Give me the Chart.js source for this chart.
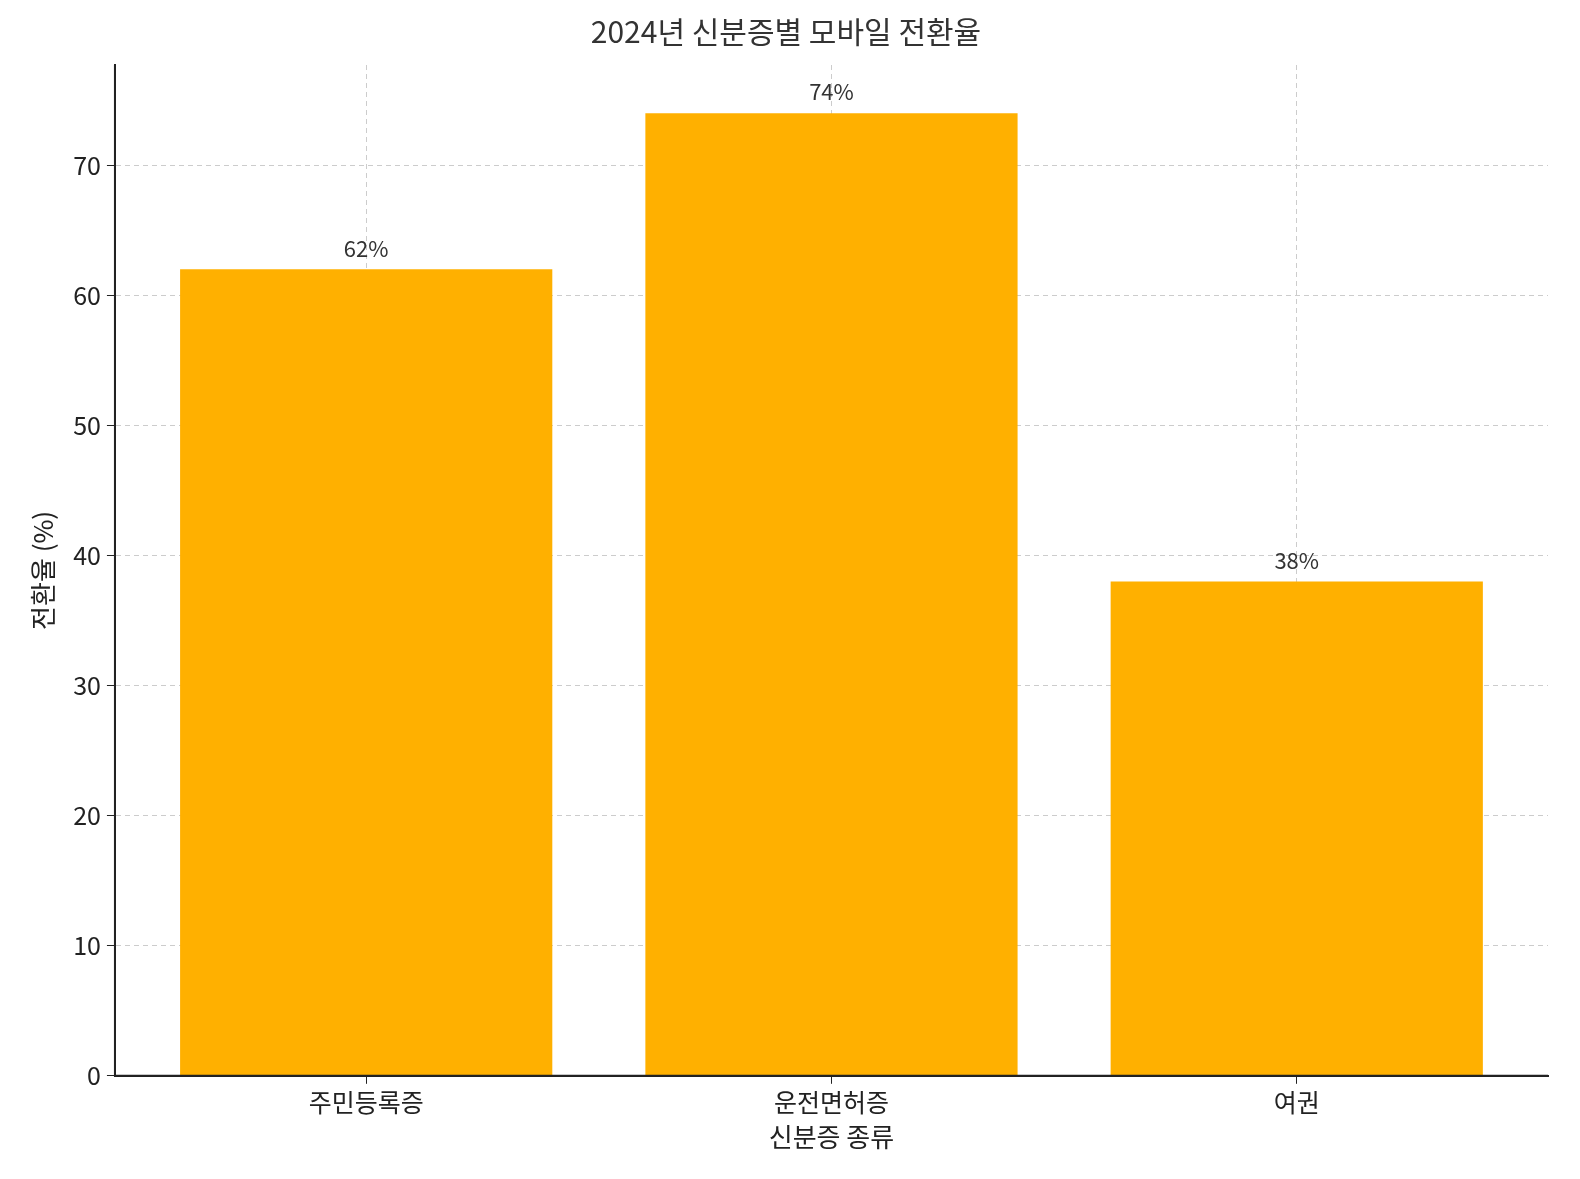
<!DOCTYPE html>
<html><head><meta charset="utf-8">
<script src="https://cdn.jsdelivr.net/npm/chart.js@4"></script>
<style>html,body{margin:0;padding:0;background:#fff}#w{width:1580px;height:1179px}</style>
</head><body><div id="w"><canvas id="c"></canvas></div>
<script>
const categories = ['주민등록증','운전면허증','여권'];
const rates = [62, 74, 38];
const yTicks = [0,10,20,30,40,50,60,70];
const F = "'Noto Sans CJK KR','Noto Sans',sans-serif";
const labelPlugin = {
  id:'lbl',
  afterDatasetsDraw(chart){
    const ctx=chart.ctx; const meta=chart.getDatasetMeta(0);
    ctx.save(); ctx.font="22px "+F; ctx.fillStyle='#333'; ctx.textAlign='center'; ctx.textBaseline='bottom';
    meta.data.forEach((b,i)=>ctx.fillText(rates[i]+'%', b.x, b.y-10));
    ctx.restore();
  }
};
new Chart(document.getElementById('c'),{
  type:'bar',
  data:{datasets:[{data:rates.map((v,i)=>({x:i,y:v})),backgroundColor:'#FFB000',barPercentage:0.8,categoryPercentage:1}]},
  options:{
    responsive:true,maintainAspectRatio:false,animation:false,
    layout:{padding:{top:10,right:32,left:24,bottom:26}},
    plugins:{legend:{display:false},tooltip:{enabled:false},
      title:{display:true,text:'2024년 신분증별 모바일 전환율',font:{family:F,size:30,weight:'normal'},color:'#333',padding:{top:4,bottom:15}}},
    scales:{
      x:{type:'linear',min:-0.54,max:2.54,offset:false,
        afterBuildTicks(s){s.ticks=categories.map((c,i)=>({value:i}));},
        ticks:{callback:(v)=>categories[v],font:{family:F,size:25},color:'#222',padding:4,autoSkip:false,maxRotation:0},
        grid:{color:'#ccc',tickColor:'#222',tickLength:8,offset:false},
        border:{color:'#222',width:2,dash:[5,4]},
        title:{display:true,text:'신분증 종류',font:{family:F,size:26},color:'#222',padding:0}},
      y:{min:0,max:77.7,
        afterBuildTicks(s){s.ticks=yTicks.map(v=>({value:v}));},
        ticks:{font:{family:F,size:25},color:'#222',padding:6},
        grid:{color:'#ccc',tickColor:'#222',tickLength:8},
        border:{color:'#222',width:2,dash:[5,4]},
        title:{display:true,text:'전환율 (%)',font:{family:F,size:26},color:'#222',padding:{bottom:8}}}
    }
  },
  plugins:[labelPlugin,{id:'ax',afterDraw(chart){const a=chart.chartArea,c=chart.ctx;c.save();c.strokeStyle='#222';c.lineWidth=2;c.beginPath();c.moveTo(a.left,a.top);c.lineTo(a.left,a.bottom);c.lineTo(a.right,a.bottom);c.stroke();c.restore();}}]
});
</script></body></html>
